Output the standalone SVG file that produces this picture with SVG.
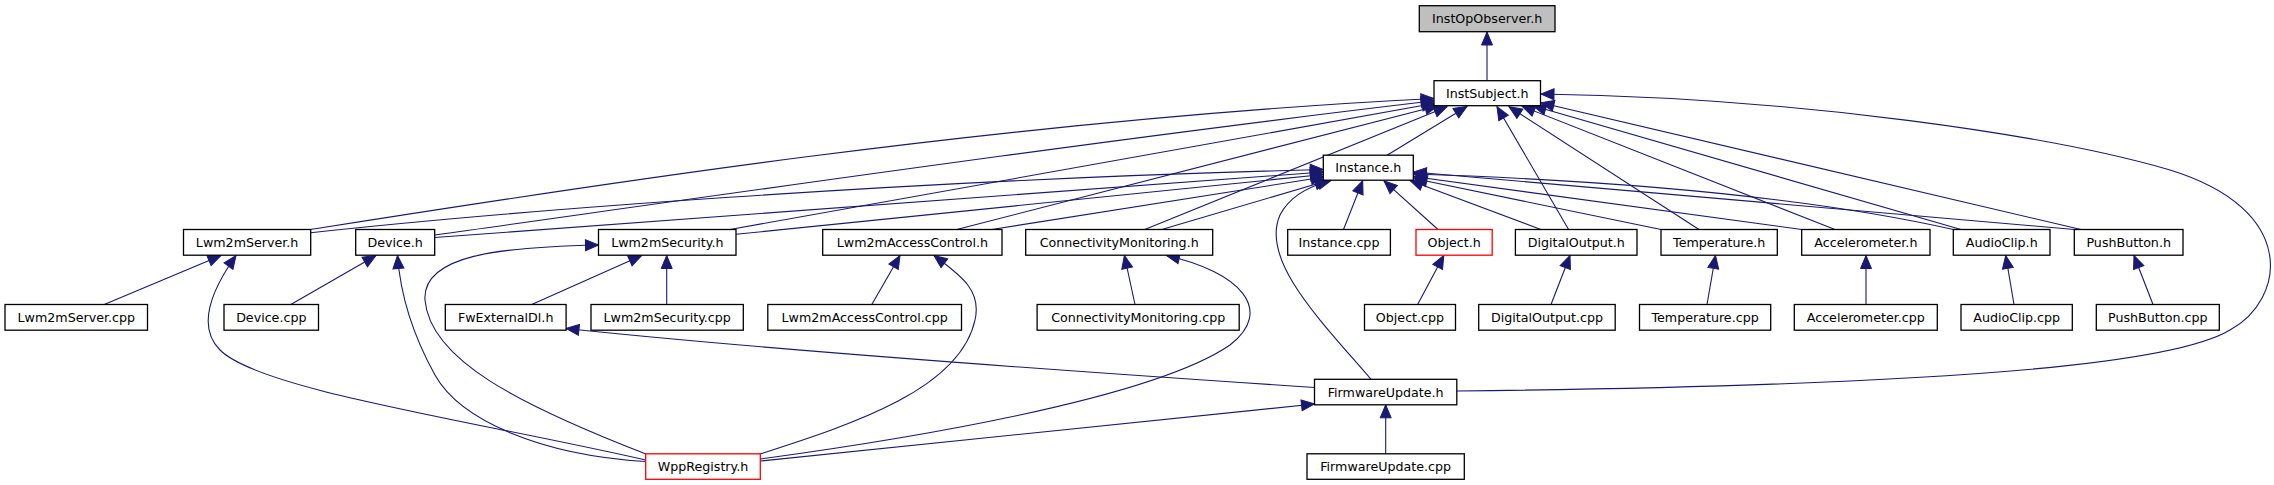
<svg xmlns="http://www.w3.org/2000/svg" width="2274" height="485" viewBox="0 0 2274 485">
<style>
  .n rect { fill: #ffffff; stroke: #000000; stroke-width: 1.3; }
  .n rect.root { fill: #bfbfbf; }
  .n rect.red { stroke: #ff0000; }
  .n text { font-family: "DejaVu Sans", "Liberation Sans", sans-serif; font-size: 12.67px; fill: #000000; text-anchor: middle; }
  #edges path { fill: none; stroke: #191970; stroke-width: 1.1; marker-end: url(#arr); }
</style>
<defs>
  <marker id="arr" markerUnits="userSpaceOnUse" markerWidth="14" markerHeight="12" refX="13" refY="5.5" orient="auto" overflow="visible">
    <path d="M0,0 L13,5.5 L0,11 Z" fill="#191970" stroke="#191970" stroke-width="1"/>
  </marker>
</defs>
<rect x="0" y="0" width="2274" height="485" fill="#ffffff"/>
<g id="edges">
  <path d="M1487,80.7 L1487,32"/>
  <path d="M1387,155.2 L1467,106.5"/>
  <path d="M310.7,229.5 C560,190 1000,120 1434,98.5"/>
  <path d="M434.7,235 C700,198 1100,140 1434,100.8"/>
  <path d="M730,229.5 L1435,103.3"/>
  <path d="M956.7,229.5 L1438,105.7"/>
  <path d="M1144.7,229.5 L1447,106.7"/>
  <path d="M1568.6,229.5 L1497,106.7"/>
  <path d="M1699,229.5 L1509,106.7"/>
  <path d="M1835,229.5 L1522,106.2"/>
  <path d="M1961,229.5 L1533,105.8"/>
  <path d="M2081,229.5 L1541,102.8"/>
  <path d="M1457,391 C2000,385 2180,360 2230,330 C2285,300 2300,210 2170,170 C2050,135 1800,98 1541,94"/>
  <path d="M310.7,232.7 C500,212 900,180 1323.3,169.5"/>
  <path d="M434.7,237.5 L1323.3,172"/>
  <path d="M736,234.3 L1323.3,174.5"/>
  <path d="M991.7,229.5 L1324,177"/>
  <path d="M1161.7,229.5 L1328,180.5"/>
  <path d="M1371,379.3 C1320,320 1260,260 1280,215 C1290,195 1310,186 1331,180.5"/>
  <path d="M1343.5,229.5 L1362.7,180.8"/>
  <path d="M1438,229.5 L1384,180.8"/>
  <path d="M1540.8,229.5 L1410,180.5"/>
  <path d="M1661,229.5 L1414,178.5"/>
  <path d="M1801.7,229.5 L1413.3,176.5"/>
  <path d="M1953.3,229.5 C1800,195 1600,180 1413.3,174"/>
  <path d="M2074.3,229.5 L1413.3,172"/>
  <path d="M104.2,304.5 L221,255.5"/>
  <path d="M645.7,460 C470,420 260,390 220,350 C195,325 215,285 236,255.5"/>
  <path d="M290.8,304.5 L376,255.5"/>
  <path d="M645.7,461.5 C540,455 460,420 435,375 C410,330 400,290 397.5,255.5"/>
  <path d="M531.7,304.5 L641.7,255.5"/>
  <path d="M666.7,304.5 L666.7,255.5"/>
  <path d="M646,454 C520,405 430,360 425,300 C422,255 500,247 598.5,245"/>
  <path d="M871.8,304.5 L900,255.5"/>
  <path d="M760.3,454 C850,425 960,390 975,320 C982,290 960,275 934,255.5"/>
  <path d="M1135,304.5 L1124.4,255.5"/>
  <path d="M760.3,459 C900,440 1150,400 1230,345 C1275,310 1240,272 1166.5,255.5"/>
  <path d="M1417.6,304.5 L1443.8,255.5"/>
  <path d="M1551,304.5 L1570,255.5"/>
  <path d="M1707,304.5 L1715.5,255.5"/>
  <path d="M1866,304.5 L1866,255.5"/>
  <path d="M2014,304.5 L2005.7,255.5"/>
  <path d="M2153,304.5 L2134,255.5"/>
  <path d="M1314.5,387.5 C1050,370 750,348 566,328.5"/>
  <path d="M760.3,461 L1314.5,404"/>
  <path d="M1385.7,453.8 L1385.7,404.8"/>
</g>
<g id="InstOpObserver_h" class="n"><rect class="root" x="1419.3" y="5.7" width="135.7" height="26"/><text x="1487.2" y="23.2">InstOpObserver.h</text></g>
<g id="InstSubject_h" class="n"><rect x="1434" y="80.7" width="106.5" height="25"/><text x="1487.3" y="97.7">InstSubject.h</text></g>
<g id="Instance_h" class="n"><rect x="1323.3" y="155.2" width="90" height="25"/><text x="1368.3" y="172.2">Instance.h</text></g>
<g id="Lwm2mServer_h" class="n"><rect x="183.5" y="229.5" width="127.2" height="25.7"/><text x="247.1" y="246.8">Lwm2mServer.h</text></g>
<g id="Device_h" class="n"><rect x="355.7" y="229.5" width="79" height="25.7"/><text x="395.2" y="246.8">Device.h</text></g>
<g id="Lwm2mSecurity_h" class="n"><rect x="598.5" y="229.5" width="137.5" height="25.7"/><text x="667.3" y="246.8">Lwm2mSecurity.h</text></g>
<g id="Lwm2mAccessControl_h" class="n"><rect x="822.7" y="229.5" width="179.3" height="25.7"/><text x="912.4" y="246.8">Lwm2mAccessControl.h</text></g>
<g id="ConnectivityMonitoring_h" class="n"><rect x="1025.7" y="229.5" width="187" height="25.7"/><text x="1119.2" y="246.8">ConnectivityMonitoring.h</text></g>
<g id="Instance_cpp" class="n"><rect x="1287.7" y="229.5" width="102.7" height="25.7"/><text x="1339" y="246.8">Instance.cpp</text></g>
<g id="Object_h" class="n"><rect class="red" x="1416" y="229.5" width="76.2" height="25.7"/><text x="1454.1" y="246.8">Object.h</text></g>
<g id="DigitalOutput_h" class="n"><rect x="1515.4" y="229.5" width="121.6" height="25.7"/><text x="1576.2" y="246.8">DigitalOutput.h</text></g>
<g id="Temperature_h" class="n"><rect x="1661" y="229.5" width="116.3" height="25.7"/><text x="1719.2" y="246.8">Temperature.h</text></g>
<g id="Accelerometer_h" class="n"><rect x="1801.7" y="229.5" width="128.3" height="25.7"/><text x="1865.9" y="246.8">Accelerometer.h</text></g>
<g id="AudioClip_h" class="n"><rect x="1953.3" y="229.5" width="96.7" height="25.7"/><text x="2001.7" y="246.8">AudioClip.h</text></g>
<g id="PushButton_h" class="n"><rect x="2074.3" y="229.5" width="108.7" height="25.7"/><text x="2128.7" y="246.8">PushButton.h</text></g>
<g id="Lwm2mServer_cpp" class="n"><rect x="5" y="304.5" width="142.5" height="25.7"/><text x="76.3" y="321.8">Lwm2mServer.cpp</text></g>
<g id="Device_cpp" class="n"><rect x="224" y="304.5" width="94.5" height="25.7"/><text x="271.3" y="321.8">Device.cpp</text></g>
<g id="FwExternalDl_h" class="n"><rect x="445.3" y="304.5" width="120.8" height="25.7"/><text x="505.7" y="321.8">FwExternalDl.h</text></g>
<g id="Lwm2mSecurity_cpp" class="n"><rect x="591" y="304.5" width="152.3" height="25.7"/><text x="667.2" y="321.8">Lwm2mSecurity.cpp</text></g>
<g id="Lwm2mAccessControl_cpp" class="n"><rect x="767.8" y="304.5" width="193.7" height="25.7"/><text x="864.7" y="321.8">Lwm2mAccessControl.cpp</text></g>
<g id="ConnectivityMonitoring_cpp" class="n"><rect x="1037.1" y="304.5" width="202.1" height="25.7"/><text x="1138.2" y="321.8">ConnectivityMonitoring.cpp</text></g>
<g id="Object_cpp" class="n"><rect x="1364.5" y="304.5" width="91" height="25.7"/><text x="1410" y="321.8">Object.cpp</text></g>
<g id="DigitalOutput_cpp" class="n"><rect x="1478.7" y="304.5" width="136.5" height="25.7"/><text x="1547" y="321.8">DigitalOutput.cpp</text></g>
<g id="Temperature_cpp" class="n"><rect x="1639.5" y="304.5" width="131.2" height="25.7"/><text x="1705.1" y="321.8">Temperature.cpp</text></g>
<g id="Accelerometer_cpp" class="n"><rect x="1794.3" y="304.5" width="143" height="25.7"/><text x="1865.8" y="321.8">Accelerometer.cpp</text></g>
<g id="AudioClip_cpp" class="n"><rect x="1961" y="304.5" width="111.3" height="25.7"/><text x="2016.7" y="321.8">AudioClip.cpp</text></g>
<g id="PushButton_cpp" class="n"><rect x="2096.3" y="304.5" width="123" height="25.7"/><text x="2157.8" y="321.8">PushButton.cpp</text></g>
<g id="FirmwareUpdate_h" class="n"><rect x="1314.5" y="379.3" width="142.3" height="25.5"/><text x="1385.7" y="396.5">FirmwareUpdate.h</text></g>
<g id="WppRegistry_h" class="n"><rect class="red" x="645.7" y="453.8" width="114.6" height="25.5"/><text x="703" y="471">WppRegistry.h</text></g>
<g id="FirmwareUpdate_cpp" class="n"><rect x="1307" y="453.8" width="157.3" height="25.5"/><text x="1385.7" y="471">FirmwareUpdate.cpp</text></g>
</svg>
